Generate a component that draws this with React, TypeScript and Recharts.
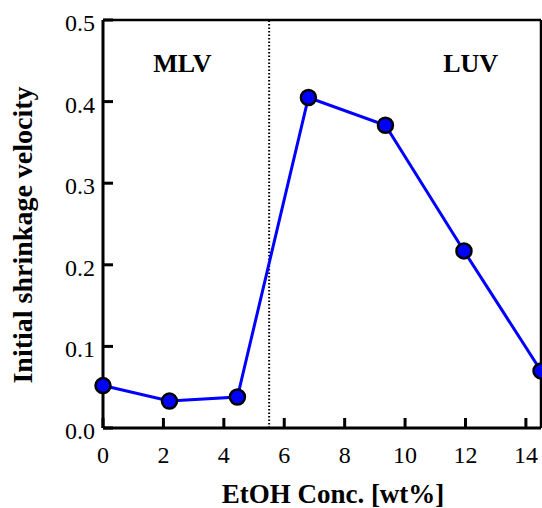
import React from 'react';
import { LineChart, Line, XAxis, YAxis, ReferenceLine, ReferenceDot } from 'recharts';

const concentrations = [0, 2.2, 4.45, 6.8, 9.35, 11.95, 14.5];
const velocities = [0.052, 0.033, 0.038, 0.405, 0.371, 0.217, 0.07];
const xTicks = [0, 2, 4, 6, 8, 10, 12, 14];
const yTicks = [0, 0.1, 0.2, 0.3, 0.4, 0.5];

const FONT = 'Liberation Serif, Times New Roman, serif';

const data = concentrations.map((c, i) => ({ conc: c, velocity: velocities[i] }));

const renderXTick = (props: any) => (
  <text
    key={`xt-${props.index}`}
    x={props.x}
    y={463}
    textAnchor="middle"
    fill="#000"
    fontFamily={FONT}
    fontSize={24}
  >
    {props.payload.value}
  </text>
);

const renderYTick = (props: any) => (
  <text
    key={`yt-${props.index}`}
    x={95}
    y={props.y + 11}
    textAnchor="end"
    fill="#000"
    fontFamily={FONT}
    fontSize={24}
  >
    {Number(props.payload.value).toFixed(1)}
  </text>
);

const App: React.FC = () => {
  return (
    <div style={{ position: 'absolute', left: 0, top: 0, background: '#fff', fontFamily: FONT }}>
      <LineChart width={542} height={508} data={data} margin={{ top: 20, right: 1, bottom: 0, left: 0 }}>
        <XAxis
          dataKey="conc"
          type="number"
          domain={[0, 14.5]}
          ticks={xTicks}
          height={80}
          axisLine={{ stroke: '#000', strokeWidth: 3 }}
          tickLine={{ stroke: '#000', strokeWidth: 3 }}
          tickSize={-10}
          tick={renderXTick}
          label={{
            content: ({ viewBox }: any) => (
              <text
                x={viewBox.x + viewBox.width / 2 + 11}
                y={503}
                textAnchor="middle"
                fill="#000"
                fontFamily={FONT}
                fontWeight="bold"
                fontSize={27}
              >
                EtOH Conc. [wt%]
              </text>
            ),
          }}
        />
        <YAxis
          type="number"
          domain={[0, 0.5]}
          ticks={yTicks}
          width={103}
          axisLine={{ stroke: '#000', strokeWidth: 3 }}
          tickLine={{ stroke: '#000', strokeWidth: 3 }}
          tickSize={-10}
          tick={renderYTick}
          label={{
            content: ({ viewBox }: any) => {
              const cy = viewBox.y + viewBox.height / 2 + 11;
              return (
                <text
                  x={22}
                  y={cy}
                  transform={`rotate(-90 22 ${cy})`}
                  textAnchor="middle"
                  dominantBaseline="central"
                  fill="#000"
                  fontFamily={FONT}
                  fontWeight="bold"
                  fontSize={28}
                >
                  Initial shrinkage velocity
                </text>
              );
            },
          }}
        />
        <ReferenceLine x={5.5} stroke="#000" strokeWidth={2} strokeDasharray="1.5 2" />
        <ReferenceLine y={0.5} stroke="#000" strokeWidth={2.5} />
        <ReferenceDot
          x={2.63}
          y={0.447}
          r={0}
          fill="none"
          stroke="none"
          label={{ value: 'MLV', position: 'center', fill: '#000', fontSize: 26, fontWeight: 'bold', fontFamily: FONT }}
        />
        <ReferenceDot
          x={12.17}
          y={0.447}
          r={0}
          fill="none"
          stroke="none"
          label={{ value: 'LUV', position: 'center', fill: '#000', fontSize: 26, fontWeight: 'bold', fontFamily: FONT }}
        />
        <Line
          type="linear"
          dataKey="velocity"
          stroke="#0000ff"
          strokeWidth={3}
          dot={{ r: 7.5, fill: '#0000ff', stroke: '#000', strokeWidth: 2.5 }}
          isAnimationActive={false}
        />
        <ReferenceLine x={14.5} stroke="#000" strokeWidth={2.5} />
      </LineChart>
    </div>
  );
};

export default App;
